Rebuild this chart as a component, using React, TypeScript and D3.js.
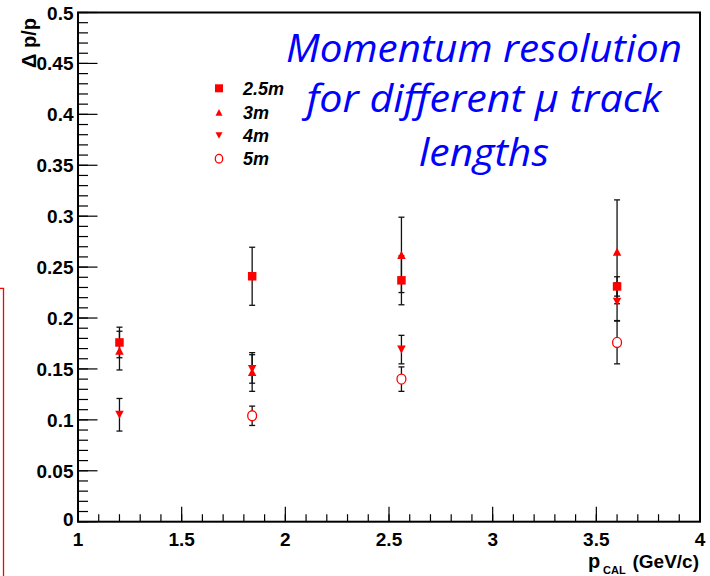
import React from "react";
import * as d3 from "d3";

const momenta = [1.2, 1.84, 2.56, 3.6];
const res25 = [0.176, 0.241, 0.237, 0.231];
const err25 = [0.015, 0.0285, 0.024, 0.0095];
const res3 = [0.168, 0.147, 0.262, 0.265];
const err3 = [0.019, 0.019, 0.037, 0.051];
const res4 = [0.105, 0.15, 0.169, 0.216];
const err4 = [0.016, 0.014, 0.014, 0.0185];
const res5: (number | null)[] = [null, 0.104, 0.14, 0.176];
const err5: (number | null)[] = [null, 0.0095, 0.012, 0.021];

const legendLabels = ["2.5m", "3m", "4m", "5m"];
const titleLines = ["Momentum resolution", "for different \u03bc track", "lengths"];

const W = 710;
const H = 576;
const L = 78;
const R = 700;
const T = 12.5;
const B = 521.7;

const RED = "#ff0000";

function Marker({ kind, cx, cy, s }: { kind: string; cx: number; cy: number; s: number }) {
  if (kind === "square") {
    return <rect x={cx - s / 2} y={cy - s / 2} width={s} height={s} fill={RED} />;
  }
  if (kind === "up") {
    const h = s * 0.95;
    return (
      <path
        d={`M${cx},${cy - h / 2} L${cx + s / 2},${cy + h / 2} L${cx - s / 2},${cy + h / 2} Z`}
        fill={RED}
      />
    );
  }
  if (kind === "down") {
    const h = s * 0.95;
    return (
      <path
        d={`M${cx},${cy + h / 2} L${cx + s / 2},${cy - h / 2} L${cx - s / 2},${cy - h / 2} Z`}
        fill={RED}
      />
    );
  }
  return <ellipse cx={cx} cy={cy} rx={s / 2 - 0.3} ry={s / 2 + 0.3} fill="#fff" stroke={RED} strokeWidth={1.3} />;
}

export default function App() {
  const x = d3.scaleLinear().domain([1, 4]).range([L, R]);
  const y = d3.scaleLinear().domain([0, 0.5]).range([B, T]);

  const yMajor = y.ticks(10);
  const yMinor = y.ticks(50);
  const xMajor = x.ticks(6);
  const xMinor = x.ticks(30);
  const fmt = d3.format("~g");

  const series = [
    { kind: "square", vals: res25, errs: err25 },
    { kind: "up", vals: res3, errs: err3 },
    { kind: "down", vals: res4, errs: err4 },
    { kind: "circle", vals: res5, errs: err5 },
  ];

  const tickFont = "'Liberation Sans', Arial, sans-serif";
  const legendY = [88.3, 112.3, 135.5, 158.7];

  return (
    <div style={{ position: "fixed", left: 0, top: 0, width: W, height: H, background: "#fff" }}>
      <svg width={W} height={H} viewBox={`0 0 ${W} ${H}`} style={{ display: "block" }}>
        <rect x={0} y={0} width={W} height={H} fill="#fff" />

        {/* red slide box edge */}
        <path d={`M0,288.3 H3.5 V${H}`} fill="none" stroke={RED} strokeWidth={1.3} />

        {/* y ticks */}
        {yMinor.map((v, i) => (
          <line key={"ym" + i} x1={L} x2={L + 10} y1={y(v)} y2={y(v)} stroke="#000" strokeWidth={1.2} />
        ))}
        {yMajor.map((v, i) => (
          <line key={"yM" + i} x1={L} x2={L + 19.5} y1={y(v)} y2={y(v)} stroke="#000" strokeWidth={1.2} />
        ))}
        {/* x ticks */}
        {xMinor.map((v, i) => (
          <line key={"xm" + i} x1={x(v)} x2={x(v)} y1={B} y2={B - 7.5} stroke="#000" strokeWidth={1.2} />
        ))}
        {xMajor.map((v, i) => (
          <line key={"xM" + i} x1={x(v)} x2={x(v)} y1={B} y2={B - 15} stroke="#000" strokeWidth={1.2} />
        ))}

        {/* frame */}
        <rect x={L} y={T} width={R - L} height={B - T} fill="none" stroke="#000" strokeWidth={2} />

        {/* y tick labels */}
        {yMajor.map((v, i) => (
          <text
            key={"yl" + i}
            x={73.5}
            y={y(v) + (v === 0 ? 4.5 : 7)}
            textAnchor="end"
            fontFamily={tickFont}
            fontWeight="bold"
            fontSize={19}
            fill="#000"
          >
            {fmt(v)}
          </text>
        ))}
        {/* x tick labels */}
        {xMajor.map((v, i) => (
          <text
            key={"xl" + i}
            x={x(v)}
            y={545.5}
            textAnchor="middle"
            fontFamily={tickFont}
            fontWeight="bold"
            fontSize={19}
            fill="#000"
          >
            {fmt(v)}
          </text>
        ))}

        {/* axis titles */}
        <text
          transform="translate(36,18) rotate(-90)"
          textAnchor="end"
          fontFamily={tickFont}
          fontWeight="bold"
          fontSize={20}
          fill="#000"
        >
          {"\u0394 p/p"}
        </text>
        <text x={588} y={568} fontFamily={tickFont} fontWeight="bold" fontSize={20} fill="#000">
          p
        </text>
        <text x={603} y={574} fontFamily={tickFont} fontWeight="bold" fontSize={11} fill="#000">
          CAL
        </text>
        <text x={699} y={568} textAnchor="end" fontFamily={tickFont} fontWeight="bold" fontSize={19} fill="#000">
          (GeV/c)
        </text>

        {/* error bars */}
        {series.map((s, si) =>
          momenta.map((m, i) => {
            const v = s.vals[i];
            const e = s.errs[i];
            if (v == null || e == null) return null;
            const cx = x(m);
            const y1 = y(v + e);
            const y2 = y(v - e);
            return (
              <g key={`e${si}-${i}`} stroke="#111" strokeWidth={1.3}>
                <line x1={cx} x2={cx} y1={y1} y2={y2} />
                <line x1={cx - 3} x2={cx + 3} y1={y1} y2={y1} />
                <line x1={cx - 3} x2={cx + 3} y1={y2} y2={y2} />
              </g>
            );
          })
        )}
        {/* markers */}
        {series.map((s, si) =>
          momenta.map((m, i) => {
            const v = s.vals[i];
            if (v == null) return null;
            return <Marker key={`m${si}-${i}`} kind={s.kind} cx={x(m)} cy={y(v)} s={s.kind === "circle" ? 9.5 : 8.5} />;
          })
        )}

        {/* legend */}
        {series.map((s, i) => (
          <g key={"lg" + i}>
            <Marker kind={s.kind} cx={219} cy={legendY[i]} s={s.kind === "square" ? 8 : s.kind === "circle" ? 8 : 7} />
            <text
              x={243}
              y={legendY[i] + 6.5}
              fontFamily={tickFont}
              fontWeight="bold"
              fontStyle="italic"
              fontSize={18}
              fill="#000"
            >
              {legendLabels[i]}
            </text>
          </g>
        ))}

        {/* title */}
        {titleLines.map((t, i) => (
          <text
            key={"t" + i}
            x={484}
            y={[62, 112, 166][i]}
            textAnchor="middle"
            fontFamily="'Open Sans', 'Noto Sans', sans-serif"
            fontStyle="italic"
            fontSize={39}
            fill="#0000ff"
            textLength={[396, 355, 130][i]}
            lengthAdjust="spacingAndGlyphs"
          >
            {t}
          </text>
        ))}
      </svg>
    </div>
  );
}
